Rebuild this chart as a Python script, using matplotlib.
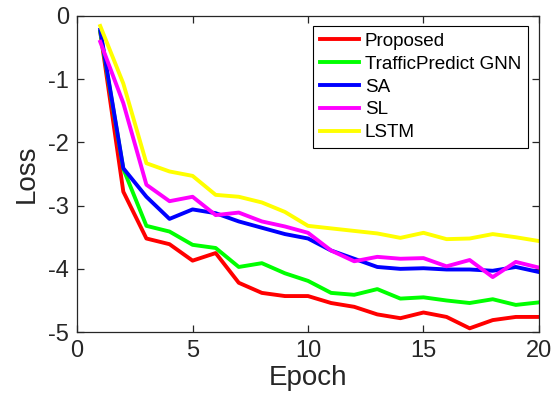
import numpy as np
import matplotlib
matplotlib.use("Agg")
import matplotlib.pyplot as plt

plt.rcParams['font.family'] = ['Liberation Sans', 'DejaVu Sans']

epochs = list(range(1, 21))

# loss values
proposed = [-0.25, -2.78, -3.52, -3.61, -3.87, -3.75, -4.22, -4.38, -4.43, -4.43,
            -4.54, -4.60, -4.72, -4.78, -4.69, -4.76, -4.94, -4.81, -4.76, -4.76]
traffic_gnn = [-0.25, -2.42, -3.32, -3.41, -3.62, -3.67, -3.97, -3.91, -4.07, -4.19,
               -4.38, -4.41, -4.32, -4.47, -4.45, -4.50, -4.54, -4.48, -4.57, -4.53]
sa = [-0.22, -2.41, -2.86, -3.21, -3.06, -3.12, -3.25, -3.35, -3.45, -3.52,
      -3.71, -3.84, -3.97, -4.00, -3.99, -4.01, -4.01, -4.03, -3.97, -4.05]
sl = [-0.41, -1.38, -2.67, -2.93, -2.86, -3.15, -3.11, -3.25, -3.33, -3.43,
      -3.71, -3.88, -3.81, -3.84, -3.83, -3.96, -3.86, -4.13, -3.89, -3.98]
lstm = [-0.16, -1.07, -2.33, -2.46, -2.53, -2.83, -2.86, -2.95, -3.10, -3.32,
        -3.36, -3.40, -3.44, -3.51, -3.43, -3.53, -3.52, -3.45, -3.50, -3.56]

names = ["Proposed", "TrafficPredict GNN", "SA", "SL", "LSTM"]
colors = ["#ff0000", "#00ff00", "#0000ff", "#ff00ff", "#ffff00"]

fig = plt.figure(figsize=(5.55, 4.07), dpi=100)
ax = fig.add_axes([0.139, 0.184, 0.832, 0.777])

for y, name, c in zip([proposed, traffic_gnn, sa, sl, lstm], names, colors):
    ax.plot(epochs, y, color=c, lw=2.8, label=name)

ax.set_xlim(0, 20)
ax.set_ylim(-5, 0)
ax.set_xticks([0, 5, 10, 15, 20])
ax.set_yticks([-5, -4, -3, -2, -1, 0])
ax.set_yticklabels(["-5", "-4", "-3", "-2", "-1", "0"])

axcol = "#262626"
for s in ax.spines.values():
    s.set_color(axcol)
    s.set_linewidth(0.9)
ax.tick_params(direction="in", top=True, right=True, length=5, width=0.9,
               colors=axcol, labelsize=17, labelcolor=axcol, pad=6)
ax.set_xlabel("Epoch", fontsize=20, color=axcol, labelpad=2)
ax.set_ylabel("Loss", fontsize=20, color=axcol, labelpad=6)

leg = ax.legend(loc="upper right", bbox_to_anchor=(0.976, 0.968), fontsize=13.6,
                fancybox=False, framealpha=1, edgecolor="black",
                handlelength=2.1, handletextpad=0.3, borderpad=0.35,
                labelspacing=0.3, borderaxespad=0)
leg.get_frame().set_linewidth(0.8)

fig.savefig("out.png", dpi=100)
